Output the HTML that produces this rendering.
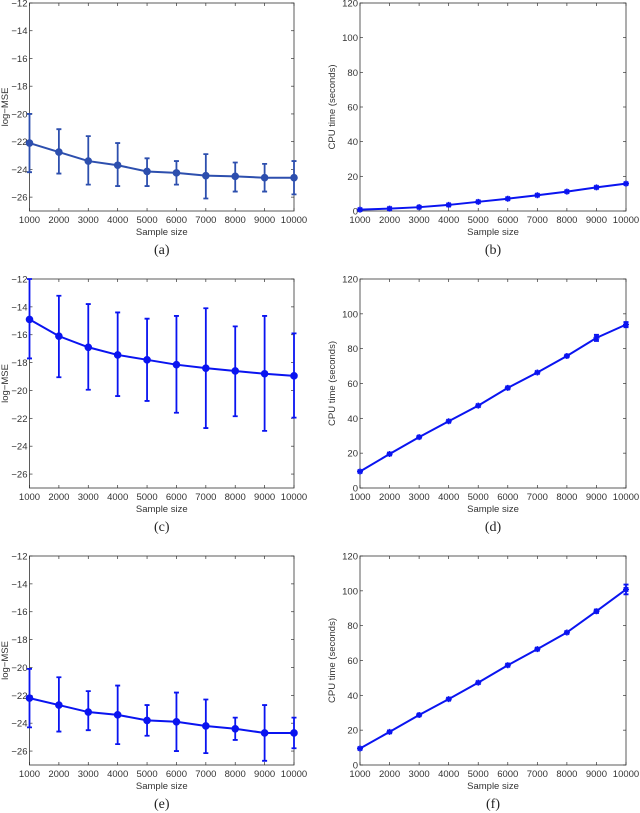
<!DOCTYPE html>
<html><head><meta charset="utf-8"><style>
body{margin:0;background:#fff;}
svg{display:block;font-family:"Liberation Sans",sans-serif;}
</style></head><body>
<svg id="fig" width="640" height="813" viewBox="0 0 640 813" xmlns="http://www.w3.org/2000/svg"></svg>
<script>
const xCats = [1000,2000,3000,4000,5000,6000,7000,8000,9000,10000];
const xTickLabels = ["1000","2000","3000","4000","5000","6000","7000","8000","9000","10000"];
const mseTicks = [-26,-24,-22,-20,-18,-16,-14,-12];
const cpuTicks = [0,20,40,60,80,100,120];
// panel a
const aMean = [-22.1,-22.75,-23.4,-23.7,-24.15,-24.25,-24.45,-24.5,-24.6,-24.6];
const aHi = [-20.0,-21.1,-21.6,-22.1,-23.2,-23.4,-22.9,-23.5,-23.6,-23.4];
const aLo = [-24.2,-24.3,-25.1,-25.2,-25.2,-25.1,-26.1,-25.6,-25.6,-25.8];
// panel c
const cMean = [-14.9,-16.1,-16.9,-17.45,-17.8,-18.15,-18.4,-18.6,-18.8,-18.95];
const cHi = [-12.0,-13.2,-13.8,-14.4,-14.85,-14.65,-14.1,-15.4,-14.65,-15.9];
const cLo = [-17.7,-19.05,-19.95,-20.4,-20.75,-21.6,-22.7,-21.85,-22.9,-21.95];
// panel e
const eMean = [-22.2,-22.7,-23.2,-23.4,-23.8,-23.9,-24.2,-24.4,-24.7,-24.7];
const eHi = [-20.1,-20.7,-21.7,-21.3,-22.7,-21.8,-22.3,-23.6,-22.7,-23.6];
const eLo = [-24.3,-24.6,-24.5,-25.5,-24.9,-26.0,-26.15,-25.2,-26.7,-25.8];
// panel b, d, f
const bMean = [0.8,1.4,2.2,3.5,5.3,7.1,9.1,11.2,13.6,15.8];
const bErr = [0.2,0.2,0.2,0.2,0.3,0.3,0.3,0.3,0.4,0.5];
const dMean = [9.5,19.5,29.2,38.3,47.3,57.5,66.3,75.8,86.2,93.8];
const dErr = [0.5,0.5,0.5,0.5,0.6,0.8,0.6,0.6,1.8,1.5];
const fMean = [9.5,19.0,28.7,37.8,47.3,57.3,66.5,76.1,88.3,100.8];
const fErr = [0.5,0.5,0.5,0.5,0.6,0.8,0.6,0.6,1.0,2.8];

const NS="http://www.w3.org/2000/svg";
const svg=document.getElementById('fig');
function mk(tag,attrs,parent){const e=document.createElementNS(NS,tag);for(const k in attrs)e.setAttribute(k,attrs[k]);(parent||svg).appendChild(e);return e;}

function panel(opt){
  const g=mk('g',{});
  
  
  const {x0,x1,y0,y1,ymin,ymax}=opt;
  const sx=v=>x0+(v-1000)/(9000)*(x1-x0);
  const sy=v=>y1-(v-ymin)/(ymax-ymin)*(y1-y0);
  const box=mk('rect',{x:x0,y:y0,width:x1-x0,height:y1-y0,fill:'none',stroke:'#333','stroke-width':0.8},g);
  
  
  xCats.forEach((c,i)=>{
    const x=sx(c);
    mk('line',{x1:x,x2:x,y1:y1,y2:y1-3,stroke:'#333','stroke-width':0.7},g);
    mk('line',{x1:x,x2:x,y1:y0,y2:y0+3,stroke:'#333','stroke-width':0.7},g);
    const t=mk('text',{x:x,y:y1+12,'font-size':9.5,'text-anchor':'middle',fill:'#333'},g);
    t.textContent=xTickLabels[i];
    
    
  });
  opt.ticks.forEach(v=>{
    const y=sy(v);
    mk('line',{x1:x0,x2:x0+3,y1:y,y2:y,stroke:'#333','stroke-width':0.7},g);
    mk('line',{x1:x1,x2:x1-3,y1:y,y2:y,stroke:'#333','stroke-width':0.7},g);
    const t=mk('text',{x:x0-2,y:y+3.5,'font-size':9.5,'text-anchor':'end',fill:'#333'},g);
    t.textContent=String(v).replace('-','\u2212');
    
    
  });
  const xl=mk('text',{x:(x0+x1)/2,y:y1+24,'font-size':9.5,'text-anchor':'middle',fill:'#333'},g);
  xl.textContent='Sample size';
  
  
  const yl=mk('text',{x:0,y:0,'font-size':9.5,'text-anchor':'middle',fill:'#333',transform:`translate(${opt.ylx},${(y0+y1)/2}) rotate(-90)`},g);
  yl.textContent=opt.ytitle;
  
  
  const cap=mk('text',{x:(x0+x1)/2,y:y1+43,'font-size':14,'text-anchor':'middle',fill:'#222','font-family':'Liberation Serif, serif'},g);
  cap.textContent=opt.caption;
  
  
  const col=opt.color;
  // error bars
  xCats.forEach((c,i)=>{
    const x=sx(c);
    const hi=opt.hi?opt.hi[i]:opt.mean[i]+opt.err[i];
    const lo=opt.lo?opt.lo[i]:opt.mean[i]-opt.err[i];
    const eb=mk('path',{d:`M${x},${sy(hi)}V${sy(lo)}M${x-2.5},${sy(hi)}H${x+2.5}M${x-2.5},${sy(lo)}H${x+2.5}`,stroke:col,'stroke-width':1.8,fill:'none'},g);
    
    
  });
  const pts=xCats.map((c,i)=>sx(c)+','+sy(opt.mean[i])).join(' ');
  const ln=mk('polyline',{points:pts,fill:'none',stroke:col,'stroke-width':2},g);
  
  
  xCats.forEach((c,i)=>{
    const x=sx(c),y=sy(opt.mean[i]);
    let m;
    if(opt.marker==='o'){
      m=mk('circle',{cx:x,cy:y,r:3.3,fill:col,stroke:col,'stroke-width':1},g);
    }else{
      m=mk('path',{d:`M${x-3},${y}H${x+3}M${x},${y-3}V${y+3}M${x-2.2},${y-2.2}L${x+2.2},${y+2.2}M${x-2.2},${y+2.2}L${x+2.2},${y-2.2}`,stroke:col,'stroke-width':1.6},g);
    }
    
    
  });
}
const L={x0:29.5,x1:294},R={x0:360,x1:626};
panel({name:'panel-a',...L,y0:3,y1:211,ymin:-27,ymax:-12,ticks:mseTicks,mean:aMean,hi:aHi,lo:aLo,color:'#2d4fae',marker:'o',ytitle:'log−MSE',ylx:8,caption:'(a)'});
panel({name:'panel-b',...R,y0:3,y1:211,ymin:0,ymax:120,ticks:cpuTicks,mean:bMean,err:bErr,color:'#0a14f0',marker:'*',ytitle:'CPU time (seconds)',ylx:335,caption:'(b)'});
panel({name:'panel-c',...L,y0:279,y1:488,ymin:-27,ymax:-12,ticks:mseTicks,mean:cMean,hi:cHi,lo:cLo,color:'#0a14f0',marker:'o',ytitle:'log−MSE',ylx:8,caption:'(c)'});
panel({name:'panel-d',...R,y0:279,y1:488,ymin:0,ymax:120,ticks:cpuTicks,mean:dMean,err:dErr,color:'#0a14f0',marker:'*',ytitle:'CPU time (seconds)',ylx:335,caption:'(d)'});
panel({name:'panel-e',...L,y0:556,y1:765,ymin:-27,ymax:-12,ticks:mseTicks,mean:eMean,hi:eHi,lo:eLo,color:'#0a14f0',marker:'o',ytitle:'log−MSE',ylx:8,caption:'(e)'});
panel({name:'panel-f',...R,y0:556,y1:765,ymin:0,ymax:120,ticks:cpuTicks,mean:fMean,err:fErr,color:'#0a14f0',marker:'*',ytitle:'CPU time (seconds)',ylx:335,caption:'(f)'});
</script>
</body></html>
